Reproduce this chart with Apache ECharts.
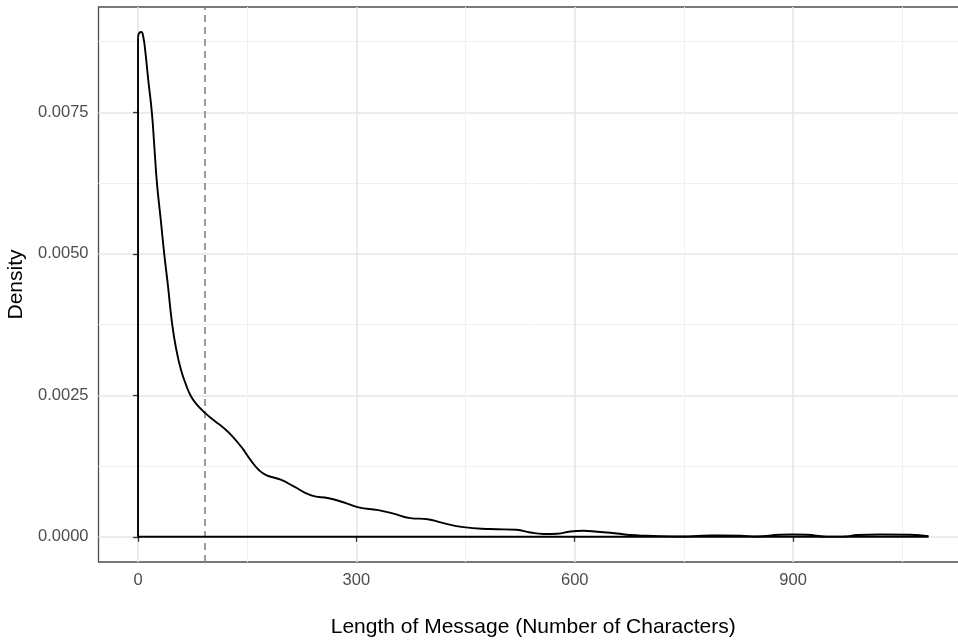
<!DOCTYPE html>
<html>
<head>
<meta charset="utf-8">
<script src="https://cdn.jsdelivr.net/npm/echarts@6/dist/echarts.min.js"></script>
<style>html,body{margin:0;padding:0;background:#fff;}#c{width:958px;height:641px;}</style>
</head>
<body>
<div id="c"></div>
<script>
// Density estimate
var densX = [0, 2, 4.5, 7, 10, 14, 19, 22.5, 26, 31, 36, 41, 47, 53, 59, 65, 72, 80, 92, 105, 118, 130, 143, 155, 166, 176, 196, 214, 238, 262, 282, 303, 330, 351, 374, 398, 417, 447, 484, 520, 539, 557, 576, 594, 612, 631, 658, 676, 699, 750, 775, 800, 828, 850, 882, 900, 919, 945, 970, 988, 1020, 1061, 1086];
var densY = [0.00883, 0.00891, 0.00892, 0.00885, 0.00858, 0.00808, 0.00750, 0.00688, 0.00625, 0.00563, 0.00500, 0.00445, 0.00375, 0.00328, 0.00295, 0.00272, 0.00250, 0.00235, 0.00219, 0.00205, 0.00192, 0.00177, 0.00157, 0.00135, 0.00118, 0.00109, 0.00101, 0.00089, 0.00073, 0.00068, 0.00061, 0.00052, 0.00047, 0.00041, 0.00033, 0.00031, 0.00025, 0.00017, 0.000136, 0.000124, 0.000076, 0.00005, 0.000053, 0.000094, 0.000106, 0.000088, 0.000058, 0.00003, 0.000018, 0.000005, 0.00002, 0.000022, 0.000018, 0.000005, 0.000035, 0.00004, 0.000035, 0.000003, 0.000005, 0.00003, 0.00004, 0.000035, 0.00001];
var meanLength = 92;
var xTicks = [0, 300, 600, 900];
var xMinor = [150, 450, 750, 1050];
var yTicks = [0, 0.0025, 0.005, 0.0075];
var yMinor = [0.00125, 0.00375, 0.00625, 0.00875];
var xRange = [-54.3, 1140.3];
var yRange = [-0.000446, 0.009363];

var curve = densX.map(function (x, i) { return [x, densY[i]]; });
var xStart = densX[0], xEnd = densX[densX.length - 1];
var edges = [[xStart, densY[0]], [xStart, 0], [xEnd, 0], [xEnd, densY[densY.length - 1]]];

var FONT = 'Liberation Sans, Arial, Helvetica, sans-serif';
var chart = echarts.init(document.getElementById('c'), null, { renderer: 'canvas' });
chart.setOption({
  backgroundColor: '#ffffff',
  animation: false,
  grid: { left: 98.5, right: -10, top: 7, bottom: 79, show: true, borderColor: '#4d4d4d', borderWidth: 1.3,
    backgroundColor: '#fff', containLabel: false, outerBoundsMode: 'none' },
  xAxis: [{
    type: 'value', min: xRange[0], max: xRange[1], position: 'bottom',
    name: 'Length of Message (Number of Characters)', nameLocation: 'middle', nameGap: 55,
    nameTextStyle: { fontFamily: FONT, fontSize: 21, color: '#000' },
    axisLine: { show: false },
    axisTick: { show: true, length: 5, customValues: xTicks, lineStyle: { color: '#333', width: 1.3 } },
    axisLabel: { show: true, customValues: xTicks, margin: 10, fontFamily: FONT, fontSize: 16.5, color: '#4d4d4d' },
    splitLine: { show: true, lineStyle: { color: '#e6e6e6', width: 1.5 } }
  }, {
    type: 'value', min: xRange[0], max: xRange[1], position: 'top',
    axisLine: { show: false }, axisLabel: { show: false },
    axisTick: { show: false, customValues: xMinor },
    splitLine: { show: true, lineStyle: { color: '#f0f0f0', width: 1 } }
  }],
  yAxis: [{
    type: 'value', min: yRange[0], max: yRange[1], position: 'left',
    name: 'Density', nameLocation: 'middle', nameGap: 64,
    nameTextStyle: { fontFamily: FONT, fontSize: 21, color: '#000' },
    axisLine: { show: false },
    axisTick: { show: true, length: 5, customValues: yTicks, lineStyle: { color: '#333', width: 1.3 } },
    axisLabel: { show: true, customValues: yTicks, margin: 10, fontFamily: FONT, fontSize: 16.5, color: '#4d4d4d',
      formatter: function (v) { return v.toFixed(4); } },
    splitLine: { show: true, lineStyle: { color: '#e6e6e6', width: 1.5 } }
  }, {
    type: 'value', min: yRange[0], max: yRange[1], position: 'right',
    axisLine: { show: false }, axisLabel: { show: false },
    axisTick: { show: false, customValues: yMinor },
    splitLine: { show: true, lineStyle: { color: '#f0f0f0', width: 1 } }
  }],
  series: [{
    type: 'line', xAxisIndex: 0, yAxisIndex: 0, data: curve, smooth: 0.5,
    showSymbol: false, symbol: 'none', lineStyle: { color: '#000', width: 1.9 }, z: 5,
    markLine: {
      silent: true, symbol: ['none', 'none'], label: { show: false },
      lineStyle: { color: '#8c8c8c', width: 1.7, type: [7, 5] },
      data: [{ xAxis: meanLength }]
    }
  }, {
    type: 'line', xAxisIndex: 0, yAxisIndex: 0, data: edges, smooth: false,
    showSymbol: false, symbol: 'none', lineStyle: { color: '#000', width: 1.9 }, z: 5
  }]
});
</script>
</body>
</html>
